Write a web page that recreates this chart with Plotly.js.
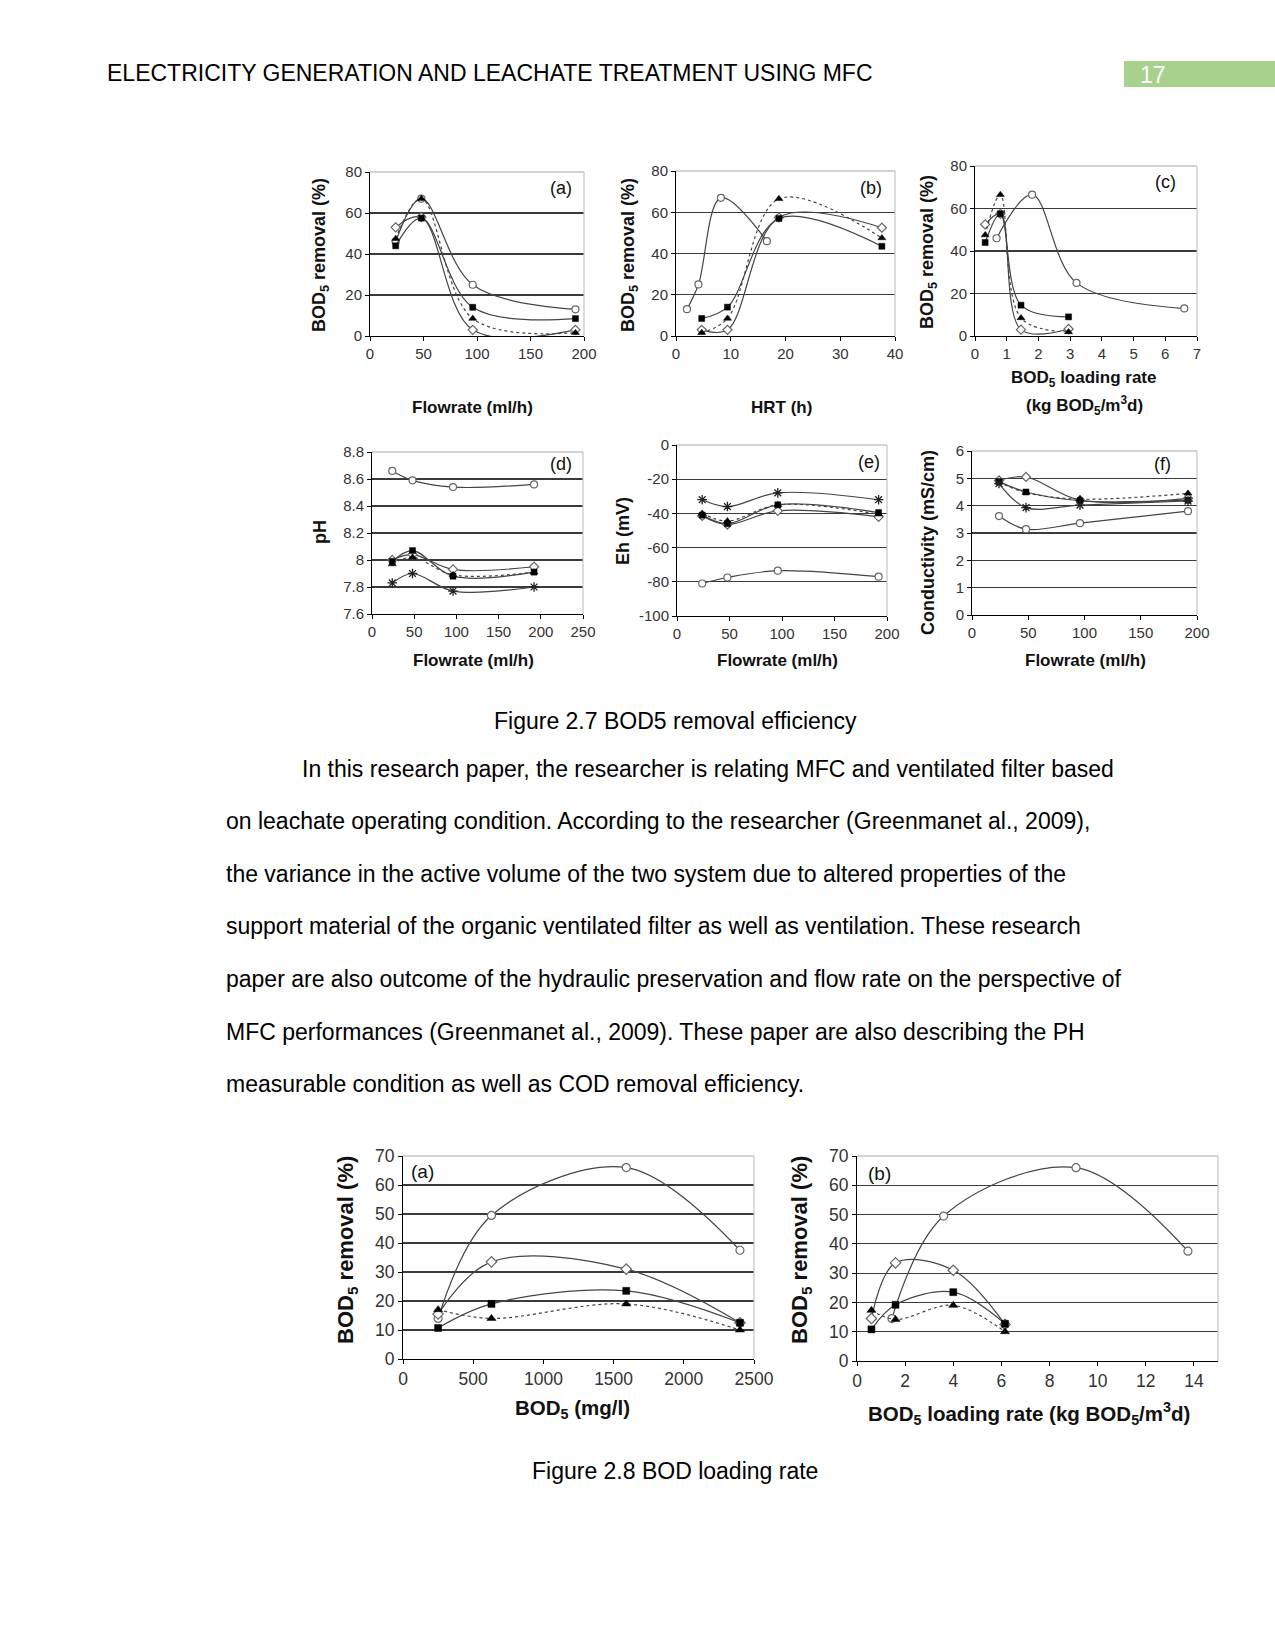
<!DOCTYPE html>
<html>
<head>
<meta charset="utf-8">
<script src="https://cdn.plot.ly/plotly-3.0.1.min.js"></script>
<style>
  html, body { margin: 0; padding: 0; background: #fff; }
  #page { width: 1275px; height: 1651px; }
</style>
</head>
<body>
<div id="page"></div>
<script>
// ---------------- DATA ----------------
// Figure 2.7 (a) BOD5 removal (%) vs flowrate (ml/h)
const flowrate = [24, 48, 96, 192];
const a_circle   = [46, 67, 25, 13];
const a_diamond  = [53, 58, 3, 3];
const a_square   = [44, 57.5, 14, 8.5];
const a_triangle = [47.5, 67, 8.5, 1.6];

// Figure 2.7 (b) BOD5 removal (%) vs HRT (h)
const hrt_circle = [2.0, 4.1, 8.2, 16.6];
const hrt_mfc    = [4.7, 9.4, 18.8, 37.6];
const b_circle   = [13, 25, 67, 46];
const b_diamond  = [3, 3, 57.5, 52.5];
const b_square   = [8.5, 14, 57, 43.5];
const b_triangle = [1.6, 8.5, 66.5, 47.5];

// Figure 2.7 (c) BOD5 removal (%) vs BOD5 loading rate (kg BOD5/m3d)
const load_circle = [0.68, 1.8, 3.2, 6.6];
const load_mfc    = [0.32, 0.8, 1.45, 2.95];
const c_circle   = [46, 66.5, 25, 13];
const c_diamond  = [52.5, 57.5, 3, 3.3];
const c_square   = [44, 57.5, 14.5, 9];
const c_triangle = [47.5, 66.5, 8.5, 1.9];

// Figure 2.7 (d) pH vs flowrate
const d_circle   = [8.66, 8.59, 8.54, 8.56];
const d_diamond  = [8.00, 8.04, 7.93, 7.95];
const d_square   = [7.99, 8.07, 7.88, 7.91];
const d_triangle = [7.97, 8.02, 7.89, 7.91];
const d_star     = [7.83, 7.90, 7.77, 7.80];

// Figure 2.7 (e) Eh (mV) vs flowrate
const e_circle   = [-81, -77.5, -73.5, -77];
const e_diamond  = [-41.5, -46.5, -38.5, -42];
const e_square   = [-41, -46, -35, -39.5];
const e_triangle = [-40, -44.5, -35, -40.5];
const e_star     = [-32, -36, -28, -32];
const ehTickVals = [0, -20, -40, -60, -80, -100];
const ehTickText = ['0', '-20', '-40', '-60', '-80', '-100'];

// Figure 2.7 (f) Conductivity (mS/cm) vs flowrate
const f_circle   = [3.62, 3.14, 3.36, 3.80];
const f_diamond  = [4.92, 5.05, 4.20, 4.27];
const f_square   = [4.88, 4.50, 4.18, 4.20];
const f_triangle = [4.86, 4.48, 4.24, 4.45];
const f_star     = [4.81, 3.93, 4.02, 4.17];

// Figure 2.8 (a) BOD5 removal (%) vs BOD5 (mg/l)
const bod = [250, 630, 1590, 2400];
const g_circle   = [14, 49.5, 66, 37.5];
const g_diamond  = [15.5, 33.5, 31, 12.5];
const g_square   = [10.7, 19, 23.5, 12.5];
const g_triangle = [17, 14, 19, 10];

// Figure 2.8 (b) BOD5 removal (%) vs BOD5 loading rate
const load2_circle = [1.45, 3.6, 9.1, 13.75];
const load2_mfc    = [0.6, 1.6, 4.0, 6.15];
const h_circle   = [14.5, 49.5, 66, 37.5];
const h_diamond  = [14.5, 33.5, 31, 12.5];
const h_square   = [10.8, 19.2, 23.5, 12.7];
const h_triangle = [17.3, 14.2, 19, 10];

// Texts
const headerText = 'ELECTRICITY GENERATION AND LEACHATE TREATMENT USING MFC';
const pageNumber = '17';
const caption1 = 'Figure 2.7 BOD5 removal efficiency';
const caption2 = 'Figure 2.8 BOD loading rate';
const bodyLines = [
  'In this research paper, the researcher is relating MFC and ventilated filter based',
  'on leachate operating condition. According to the researcher (Greenmanet al., 2009),',
  'the variance in the active volume of the two system due to altered properties of the',
  'support material of the organic ventilated filter as well as ventilation. These research',
  'paper are also outcome of the hydraulic preservation and flow rate on the perspective of',
  'MFC performances (Greenmanet al., 2009). These paper are also describing the PH',
  'measurable condition as well as COD removal efficiency.'
];

// ---------------- STYLES ----------------
const W = 1275, H = 1651;
const FONT = 'Liberation Sans, Arial, sans-serif';
const LINEC = '#444';
const styles = {
  circle:   {symbol: 'circle',        color: '#fff', line: {color: '#666', width: 1.2}, dash: 'solid'},
  diamond:  {symbol: 'diamond',       color: '#fff', line: {color: '#666', width: 1.2}, dash: 'solid'},
  square:   {symbol: 'square',        color: '#000', line: {color: '#000', width: 0.5}, dash: 'solid'},
  triangle: {symbol: 'triangle-up',   color: '#000', line: {color: '#000', width: 0.5}, dash: 'dot'},
  star:     {symbol: 'asterisk-open', color: '#222', line: {color: '#222', width: 1.3}, dash: 'solid'}
};

function trace(xs, ys, kind, n, msize) {
  const s = styles[kind];
  const sizeAdj = kind === 'square' ? -1 : (kind === 'star' ? 1 : 0);
  return {
    x: xs, y: ys, type: 'scatter', mode: 'lines+markers',
    xaxis: 'x' + (n === 1 ? '' : n), yaxis: 'y' + (n === 1 ? '' : n),
    line: {color: LINEC, width: 1.2, shape: 'spline', smoothing: 1, dash: s.dash},
    marker: {symbol: s.symbol, size: msize + sizeAdj, color: s.color, line: s.line},
    showlegend: false, cliponaxis: true, hoverinfo: 'x+y'
  };
}

const traces = [
  trace(flowrate, a_circle, 'circle', 1, 7),
  trace(flowrate, a_diamond, 'diamond', 1, 7),
  trace(flowrate, a_square, 'square', 1, 7),
  trace(flowrate, a_triangle, 'triangle', 1, 7),

  trace(hrt_circle, b_circle, 'circle', 2, 7),
  trace(hrt_mfc, b_diamond, 'diamond', 2, 7),
  trace(hrt_mfc, b_square, 'square', 2, 7),
  trace(hrt_mfc, b_triangle, 'triangle', 2, 7),

  trace(load_circle, c_circle, 'circle', 3, 7),
  trace(load_mfc, c_diamond, 'diamond', 3, 7),
  trace(load_mfc, c_square, 'square', 3, 7),
  trace(load_mfc, c_triangle, 'triangle', 3, 7),

  trace(flowrate, d_circle, 'circle', 4, 7),
  trace(flowrate, d_diamond, 'diamond', 4, 7),
  trace(flowrate, d_square, 'square', 4, 7),
  trace(flowrate, d_triangle, 'triangle', 4, 7),
  trace(flowrate, d_star, 'star', 4, 7),

  trace(flowrate, e_circle, 'circle', 5, 7),
  trace(flowrate, e_diamond, 'diamond', 5, 7),
  trace(flowrate, e_square, 'square', 5, 7),
  trace(flowrate, e_triangle, 'triangle', 5, 7),
  trace(flowrate, e_star, 'star', 5, 7),

  trace(flowrate, f_circle, 'circle', 6, 7),
  trace(flowrate, f_diamond, 'diamond', 6, 7),
  trace(flowrate, f_square, 'square', 6, 7),
  trace(flowrate, f_triangle, 'triangle', 6, 7),
  trace(flowrate, f_star, 'star', 6, 7),

  trace(bod, g_circle, 'circle', 7, 8),
  trace(bod, g_diamond, 'diamond', 7, 8),
  trace(bod, g_square, 'square', 7, 8),
  trace(bod, g_triangle, 'triangle', 7, 8),

  trace(load2_circle, h_circle, 'circle', 8, 8),
  trace(load2_mfc, h_diamond, 'diamond', 8, 8),
  trace(load2_mfc, h_square, 'square', 8, 8),
  trace(load2_mfc, h_triangle, 'triangle', 8, 8)
];

// plot boxes in page pixels: [x0, x1, y0(top), y1(bottom)]
const boxes = [
  [370, 584, 172, 336],
  [676, 895, 171, 336],
  [975, 1197, 166, 336],
  [372, 583, 452, 614],
  [677, 887, 445, 616],
  [972, 1197, 451, 615],
  [403, 754, 1156, 1359],
  [857, 1218, 1156, 1361]
];
const xr = [[0, 200, 50], [0, 40, 10], [0, 7, 1], [0, 250, 50], [0, 200, 50], [0, 200, 50], [0, 2500, 500], [0, 15, 2]];
const yr = [[0, 80, 20], [0, 80, 20], [0, 80, 20], [7.6, 8.8, 0.2], [-100, 0, 20], [0, 6, 1], [0, 70, 10], [0, 70, 10]];

const layout = {
  width: W, height: H,
  margin: {l: 0, r: 0, t: 0, b: 0},
  paper_bgcolor: '#fff', plot_bgcolor: '#fff',
  font: {family: FONT, color: '#000'},
  annotations: [], shapes: []
};

boxes.forEach((b, i) => {
  const n = i + 1;
  const sfx = n === 1 ? '' : n;
  const big = i >= 6;
  const tf = {family: FONT, size: big ? 17.5 : 15, color: '#333'};
  layout['xaxis' + sfx] = {
    domain: [b[0] / W, b[1] / W], anchor: 'y' + sfx,
    range: [xr[i][0], xr[i][1]], dtick: xr[i][2], tick0: 0,
    showline: true, linecolor: '#000', linewidth: 1,
    ticks: 'outside', ticklen: 4, tickcolor: '#000', tickwidth: 1,
    showgrid: false, zeroline: false, tickfont: tf, fixedrange: true
  };
  const ya = {
    domain: [1 - b[3] / H, 1 - b[2] / H], anchor: 'x' + sfx,
    range: [yr[i][0], yr[i][1]], dtick: yr[i][2], tick0: 0,
    showline: true, linecolor: '#000', linewidth: 1,
    ticks: 'outside', ticklen: 4, tickcolor: '#000', tickwidth: 1,
    showgrid: true, gridcolor: '#3a3a3a', gridwidth: 1.2,
    zeroline: false, tickfont: tf, fixedrange: true
  };
  if (i === 4) { ya.tickmode = 'array'; ya.tickvals = ehTickVals; ya.ticktext = ehTickText; }
  layout['yaxis' + sfx] = ya;
  // light frame on top and right
  layout.shapes.push({type: 'line', xref: 'x' + sfx + ' domain', yref: 'y' + sfx + ' domain',
    x0: 0, x1: 1, y0: 1, y1: 1, line: {color: '#c4c4c4', width: 1.5}, layer: 'above'});
  layout.shapes.push({type: 'line', xref: 'x' + sfx + ' domain', yref: 'y' + sfx + ' domain',
    x0: 1, x1: 1, y0: 0, y1: 1, line: {color: '#c4c4c4', width: 1.2}, layer: 'above'});
});

function ann(text, px, py, opts) {
  return Object.assign({
    text: text, xref: 'paper', yref: 'paper', x: px / W, y: 1 - py / H,
    xanchor: 'center', yanchor: 'middle', showarrow: false,
    font: {family: FONT, size: 15, color: '#000'}
  }, opts || {});
}
const bold = (t) => '<b>' + t + '</b>';
const tTopX = {family: FONT, size: 17, color: '#111'};
const tTopY = {family: FONT, size: 18, color: '#111'};
const tBotX = {family: FONT, size: 20.5, color: '#111'};
const tBotY = {family: FONT, size: 22, color: '#111'};
const lab = {family: FONT, size: 18, color: '#111'};
const labB = {family: FONT, size: 19, color: '#111'};
const A = layout.annotations;

// axis titles, top row
A.push(ann(bold('BOD<sub>5</sub> removal (%)'), 320, 255, {textangle: -90, font: tTopY}));
A.push(ann(bold('BOD<sub>5</sub> removal (%)'), 629, 255, {textangle: -90, font: tTopY}));
A.push(ann(bold('BOD<sub>5</sub> removal (%)'), 928, 252, {textangle: -90, font: tTopY}));
A.push(ann(bold('Flowrate (ml/h)'), 472, 407, {font: tTopX}));
A.push(ann(bold('HRT (h)'), 782, 407, {font: tTopX}));
A.push(ann(bold('BOD<sub>5</sub> loading rate'), 1083, 379, {font: tTopX}));
A.push(ann(bold('(kg BOD<sub>5</sub>/m<sup>3</sup>d)'), 1084, 405, {font: tTopX}));
// axis titles, second row
A.push(ann(bold('pH'), 320, 532, {textangle: -90, font: tTopY}));
A.push(ann(bold('Eh (mV)'), 623, 531, {textangle: -90, font: tTopY}));
A.push(ann(bold('Conductivity (mS/cm)'), 928, 542, {textangle: -90, font: tTopY}));
A.push(ann(bold('Flowrate (ml/h)'), 473, 661, {font: tTopX}));
A.push(ann(bold('Flowrate (ml/h)'), 777, 661, {font: tTopX}));
A.push(ann(bold('Flowrate (ml/h)'), 1085, 661, {font: tTopX}));
// axis titles, figure 2.8
A.push(ann(bold('BOD<sub>5</sub> removal (%)'), 347, 1250, {textangle: -90, font: tBotY}));
A.push(ann(bold('BOD<sub>5</sub> removal (%)'), 801, 1250, {textangle: -90, font: tBotY}));
A.push(ann(bold('BOD<sub>5</sub> (mg/l)'), 572, 1409, {font: tBotX}));
A.push(ann(bold('BOD<sub>5</sub> loading rate (kg BOD<sub>5</sub>/m<sup>3</sup>d)'), 1029, 1413, {font: tBotX}));
// panel labels
A.push(ann('(a)', 561, 188, {font: lab}));
A.push(ann('(b)', 871, 188, {font: lab}));
A.push(ann('(c)', 1165, 182, {font: lab}));
A.push(ann('(d)', 561, 464, {font: lab}));
A.push(ann('(e)', 869, 462, {font: lab}));
A.push(ann('(f)', 1162, 464, {font: lab}));
A.push(ann('(a)', 422, 1171, {font: labB}));
A.push(ann('(b)', 879, 1173, {font: labB}));

// page texts
const pageFont = {family: FONT, size: 23, color: '#000'};
A.push(ann(headerText, 105, 73, {xanchor: 'left', font: pageFont}));
A.push(ann(pageNumber, 1153, 75, {font: {family: FONT, size: 23, color: '#fff'}}));
A.push(ann(caption1, 675, 721, {font: pageFont}));
A.push(ann(caption2, 675, 1471, {font: pageFont}));
bodyLines.forEach((t, k) => {
  A.push(ann(t, k === 0 ? 300 : 224, 768.5 + k * 52.6, {xanchor: 'left', font: pageFont}));
});
layout.shapes.push({type: 'rect', xref: 'paper', yref: 'paper', x0: 1124 / W, x1: 1, y0: 1 - 87 / H, y1: 1 - 61 / H,
  fillcolor: '#a9d18e', line: {width: 0}, layer: 'below'});

Plotly.newPlot('page', traces, layout, {staticPlot: true, displayModeBar: false});
</script>
</body>
</html>
